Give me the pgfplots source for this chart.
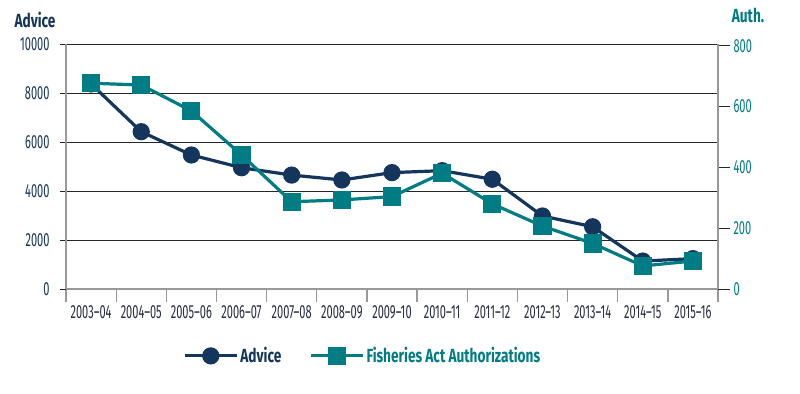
\documentclass[border=0pt]{standalone}
\usepackage{pgfplots}
\pgfplotsset{compat=1.18}
\usepackage{fontspec}
\setmainfont{Fira Sans}[FakeStretch=0.58]
\newfontfamily\legfont{Fira Sans}[FakeStretch=0.72]
\definecolor{navy}{RGB}{20,54,92}
\definecolor{tealc}{RGB}{0,124,132}
\definecolor{ticklab}{RGB}{40,44,64}
\begin{document}
\begin{tikzpicture}[x=1bp,y=1bp]
\useasboundingbox (0,0) rectangle (800,393);
\node[font=\fontsize{19bp}{22bp}\selectfont\legfont\bfseries, text=navy] at (35,373) {Advice};
\node[font=\fontsize{19bp}{22bp}\selectfont\legfont\bfseries, text=tealc] at (748,378) {Auth.};
\begin{axis}[
  at={(66bp,104bp)}, anchor=south west,
  scale only axis, width=652bp, height=245bp,
  xmin=0, xmax=13, ymin=0, ymax=10000,
  axis x line*=bottom, axis y line*=left,
  axis line style={-, black!40, line width=1.3bp},
  xtick={0,...,13},
  x tick label as interval,
  xticklabels={2003--04,2004--05,2005--06,2006--07,2007--08,2008--09,2009--10,2010--11,2011--12,2012--13,2013--14,2014--15,2015--16},
  ytick={0,2000,...,10000},
  scaled y ticks=false,
  tick align=outside,
  major tick length=13bp,
  x tick style={black!40, line width=1.3bp},
  y tick style={black!85, line width=0.8bp, /pgfplots/major tick length=6bp},
  ymajorgrids, grid style={black!85, line width=0.8bp},
  /pgf/number format/assume math mode=true,
  /pgf/number format/1000 sep={},
  x tick label style={font=\fontsize{19bp}{22bp}\selectfont, text=ticklab},
  y tick label style={font=\fontsize{19bp}{22bp}\selectfont, text=navy},
  clip=false,
]
\addplot[navy, line width=3.2bp, mark=*, mark size=7bp] coordinates {
(0.5,8370) (1.5,6420) (2.5,5470) (3.5,4950) (4.5,4650) (5.5,4450) (6.5,4750)
(7.5,4830) (8.5,4480) (9.5,2980) (10.5,2540) (11.5,1140) (12.5,1240)};
\end{axis}
\begin{axis}[
  at={(66bp,104bp)}, anchor=south west,
  scale only axis, width=652bp, height=245bp,
  xmin=0, xmax=13, ymin=0, ymax=806,
  axis x line=none, axis y line*=right,
  axis line style={-, black!40, line width=1.3bp},
  ytick={0,200,...,800},
  tick align=outside, major tick length=12bp,
  y tick style={black!85, line width=0.8bp},
  /pgf/number format/assume math mode=true,
  y tick label style={font=\fontsize{19bp}{22bp}\selectfont, text=tealc},
  clip=false,
  legend columns=2,
  legend style={draw=none, fill=none, at={(0.455,-0.273)}, anchor=center,
    font=\fontsize{19bp}{22bp}\selectfont\legfont\bfseries,
    /tikz/every even column/.append style={column sep=26bp}},
  legend image code/.code={\draw[mark repeat=2,mark phase=2,#1] plot coordinates {(0bp,0bp) (26bp,0bp) (52bp,0bp)};},
]
\addlegendimage{navy, line width=3.2bp, mark=*, mark size=7bp}
\addlegendentry{\textcolor{navy}{Advice}}
\addplot[tealc, line width=3.2bp, mark=square*, mark size=7.5bp] coordinates {
(0.5,677) (1.5,671) (2.5,586) (3.5,441) (4.5,287) (5.5,293) (6.5,304)
(7.5,381) (8.5,280) (9.5,207) (10.5,150) (11.5,76) (12.5,92)};
\addlegendentry{\textcolor{tealc}{Fisheries Act Authorizations}}
\end{axis}
\end{tikzpicture}
\end{document}
